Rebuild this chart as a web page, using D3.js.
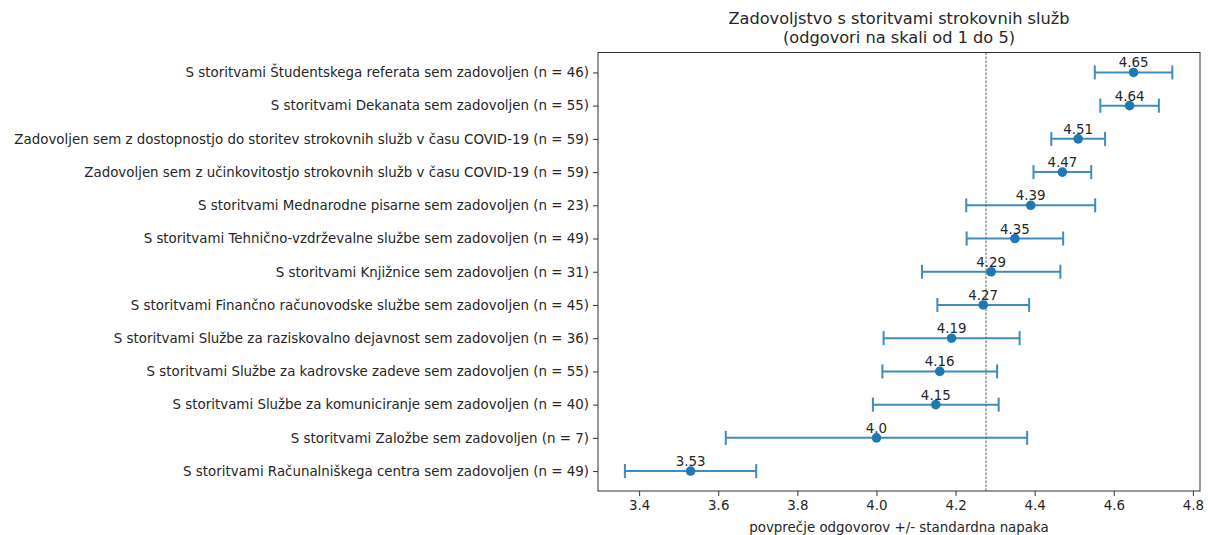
<!DOCTYPE html>
<html>
<head>
<meta charset="utf-8">
<script src="https://cdn.jsdelivr.net/npm/d3@7"></script>
<style>
  body { margin: 0; background: #fff; }
  text { font-family: "DejaVu Sans", sans-serif; fill: #262626; }
</style>
</head>
<body>
<div id="chart"></div>
<script>
// Data (top to bottom)
const labels = [
    "S storitvami Študentskega referata sem zadovoljen (n = 46)",
    "S storitvami Dekanata sem zadovoljen (n = 55)",
    "Zadovoljen sem z dostopnostjo do storitev strokovnih služb v času COVID-19 (n = 59)",
    "Zadovoljen sem z učinkovitostjo strokovnih služb v času COVID-19 (n = 59)",
    "S storitvami Mednarodne pisarne sem zadovoljen (n = 23)",
    "S storitvami Tehnično-vzdrževalne službe sem zadovoljen (n = 49)",
    "S storitvami Knjižnice sem zadovoljen (n = 31)",
    "S storitvami Finančno računovodske službe sem zadovoljen (n = 45)",
    "S storitvami Službe za raziskovalno dejavnost sem zadovoljen (n = 36)",
    "S storitvami Službe za kadrovske zadeve sem zadovoljen (n = 55)",
    "S storitvami Službe za komuniciranje sem zadovoljen (n = 40)",
    "S storitvami Založbe sem zadovoljen (n = 7)",
    "S storitvami Računalniškega centra sem zadovoljen (n = 49)"
];
const means = [4.65, 4.64, 4.51, 4.47, 4.39, 4.35, 4.29, 4.27, 4.19, 4.16, 4.15, 4.0, 3.53];
const errors = [0.098, 0.074, 0.068, 0.073, 0.163, 0.122, 0.175, 0.116, 0.172, 0.145, 0.159, 0.381, 0.166];
const meanLine = 4.277;
const xTicks = [3.4, 3.6, 3.8, 4.0, 4.2, 4.4, 4.6, 4.8];
const title = ["Zadovoljstvo s storitvami strokovnih služb", "(odgovori na skali od 1 do 5)"];
const xLabel = "povprečje odgovorov +/- standardna napaka";

const W = 1208, H = 535;
const margin = {top: 52.5, right: 8, bottom: 44, left: 598};
const width = W - margin.left - margin.right,
      height = H - margin.top - margin.bottom;
const blue = "#1f77b4";
const fs = "13.4px";

// python-style number text: 4.0 stays "4.0"
const fmtVal = v => Number.isInteger(v) ? v.toFixed(1) : String(v);

const svg = d3.select("#chart").append("svg")
    .attr("width", W).attr("height", H);
const g = svg.append("g")
    .attr("transform", `translate(${margin.left},${margin.top})`);

const x = d3.scaleLinear().domain([3.296, 4.818]).range([0, width]);
const idx = d3.range(labels.length);
const y = d3.scaleLinear().domain([-0.6, labels.length - 1 + 0.6]).range([0, height]);

// x axis
const xAxis = g.append("g")
    .attr("transform", `translate(0,${height})`)
    .call(d3.axisBottom(x).tickValues(xTicks).tickFormat(d3.format(".1f")).tickSize(5).tickPadding(4));
xAxis.select(".domain").remove();
xAxis.selectAll("line").attr("stroke", "#333");
xAxis.selectAll("text").style("font-size", fs).attr("fill", "#262626");

// y axis
const yAxis = g.append("g")
    .call(d3.axisLeft(y).tickValues(idx).tickFormat(i => labels[i]).tickSize(5).tickPadding(4));
yAxis.select(".domain").remove();
yAxis.selectAll("line").attr("stroke", "#333");
yAxis.selectAll("text").style("font-size", fs).attr("fill", "#262626");

// mean reference line
g.append("line")
    .attr("x1", x(meanLine)).attr("x2", x(meanLine))
    .attr("y1", 0).attr("y2", height)
    .attr("stroke", "#333").attr("stroke-width", 0.8)
    .attr("stroke-dasharray", "2.5,1.5");

// error bars
const bars = g.selectAll(".err").data(idx).join("g").attr("class", "err")
    .attr("stroke", blue).attr("stroke-width", 2).attr("opacity", 0.85);
bars.append("line")
    .attr("x1", i => x(means[i] - errors[i])).attr("x2", i => x(means[i] + errors[i]))
    .attr("y1", i => y(i)).attr("y2", i => y(i));
bars.append("line")
    .attr("x1", i => x(means[i] - errors[i])).attr("x2", i => x(means[i] - errors[i]))
    .attr("y1", i => y(i) - 7).attr("y2", i => y(i) + 7);
bars.append("line")
    .attr("x1", i => x(means[i] + errors[i])).attr("x2", i => x(means[i] + errors[i]))
    .attr("y1", i => y(i) - 7).attr("y2", i => y(i) + 7);

// points
g.selectAll(".pt").data(idx).join("circle").attr("class", "pt")
    .attr("cx", i => x(means[i])).attr("cy", i => y(i))
    .attr("r", 4.8).attr("fill", blue);

// value labels
g.selectAll(".val").data(idx).join("text").attr("class", "val")
    .attr("x", i => x(means[i])).attr("y", i => y(i) - 5)
    .attr("text-anchor", "middle")
    .style("font-size", fs)
    .text(i => fmtVal(means[i]));

// frame
g.append("rect")
    .attr("width", width).attr("height", height)
    .attr("fill", "none").attr("stroke", "#333").attr("stroke-width", 1);

// title
svg.append("text")
    .attr("x", margin.left + width / 2).attr("y", 24)
    .attr("text-anchor", "middle").style("font-size", "16.2px")
    .text(title[0]);
svg.append("text")
    .attr("x", margin.left + width / 2).attr("y", 43)
    .attr("text-anchor", "middle").style("font-size", "16.2px")
    .text(title[1]);

// x label
svg.append("text")
    .attr("x", margin.left + width / 2).attr("y", 532)
    .attr("text-anchor", "middle").style("font-size", fs)
    .text(xLabel);
</script>
</body>
</html>
